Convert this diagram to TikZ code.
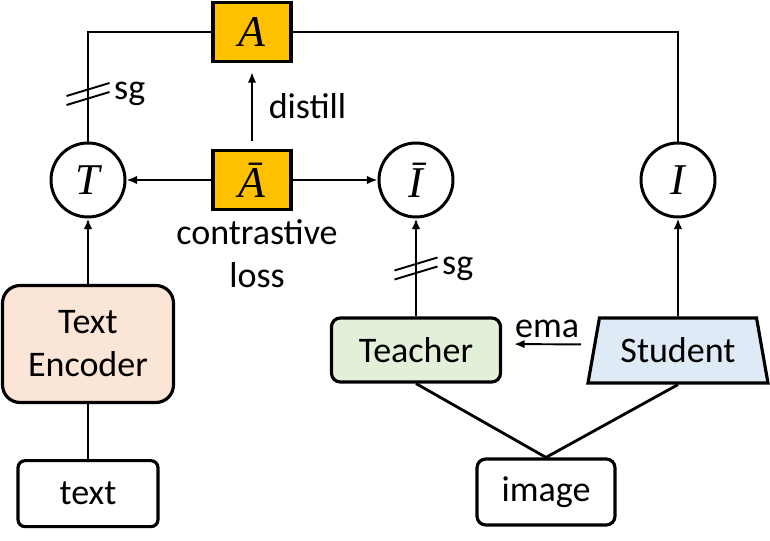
\documentclass[tikz,border=0pt]{standalone}
\usepackage{fontspec}
\setmainfont{Carlito}
\newfontfamily\varfont{Liberation Serif}
\usetikzlibrary{shapes.geometric, arrows, arrows.meta, positioning, calc}
\definecolor{gold}{HTML}{FFC000}
\definecolor{peach}{HTML}{FBE5D6}
\definecolor{mint}{HTML}{E2F0D9}
\definecolor{sky}{HTML}{DEEBF7}
\newcommand{\var}[1]{{\varfont\itshape #1}}

\begin{document}
\begin{tikzpicture}[
    font=\fontsize{20.5}{24.5}\selectfont,
    box/.style={rectangle, draw, line width=1.8pt, rounded corners=5pt, text centered},
    feat/.style={circle, draw, line width=1.7pt, minimum size=1.48cm, inner sep=0pt, font=\fontsize{25}{26}\selectfont},
    affinity/.style={rectangle, draw, line width=1.8pt, fill=gold, minimum width=1.56cm, minimum height=1.18cm, font=\fontsize{25}{26}\selectfont},
    arrow/.style={-{Latex[length=6pt, width=4.8pt]}, line width=1.1pt},
    link/.style={line width=1.6pt},
    sgmark/.style={line width=1.1pt}
]
\useasboundingbox (0,0) rectangle (15.4,10.82);

% Nodes
\node[feat] (T) at (1.76,7.22) {\var{T}};
\node[feat] (Ibar) at (8.32,7.22) {\var{\={I}}};
\node[feat] (I) at (13.56,7.22) {\var{I}};
\node[affinity] (Abar) at (5.04,7.22) {\var{\={A}}};
\node[affinity] (A) at (5.04,10.18) {\var{A}};
\node[box, fill=peach, rounded corners=10pt, minimum width=3.42cm, minimum height=2.34cm, align=center] (enc) at (1.76,3.94) {Text\\Encoder};
\node[box, rounded corners=4pt, minimum width=2.8cm, minimum height=1.32cm, below=1.1cm of enc] (text) {text};
\node[box, fill=mint, minimum width=3.38cm, minimum height=1.28cm] (teacher) at (8.32,3.82) {Teacher};
\node[trapezium, draw, line width=1.8pt, fill=sky, trapezium stretches=true, trapezium left angle=76, trapezium right angle=76, minimum width=3.6cm, minimum height=1.3cm] (student) at (13.56,3.81) {Student};
\node[box, minimum width=2.76cm, minimum height=1.32cm] (image) at (10.92,0.98) {image};

% Arrows
\draw[link] (T.north) |- (A.west);
\draw[link] (A.east) -| (I.north);
\draw[arrow, shorten <=0.16cm, shorten >=0.18cm] (Abar) -- node[right=0.2cm] {distill} (A);
\draw[arrow] (Abar) -- (T);
\draw[arrow] (Abar) -- (Ibar);
\draw[arrow] (enc) -- (T);
\draw[line width=1.1pt] (text) -- (enc);
\draw[arrow] (teacher) -- (Ibar);
\draw[arrow] (student) -- (I);
\draw[arrow, shorten <=0.22cm, shorten >=0.24cm] ([yshift=0.12cm]student.west) -- node[above] {ema} ([yshift=0.12cm]teacher.east);
\draw[link] (teacher.south) -- (image.north);
\draw[link] (student.south) -- (image.north);

% Stop-gradient marks
\coordinate (sgT) at ($(T.north)+(0,0.95)$);
\coordinate (sgI) at ($(Ibar.south)+(0,-1.0)$);
\foreach \c in {sgT, sgI} {
  \draw[sgmark] ($(\c)+(-0.43,-0.04)$) -- ($(\c)+(0.43,0.22)$);
  \draw[sgmark] ($(\c)+(-0.43,-0.22)$) -- ($(\c)+(0.43,0.04)$);
}

% Labels
\node[right=0.4cm of sgT] (sgTlabel) {sg};
\node[right=0.4cm of sgI] (sgIlabel) {sg};
\node[below=0.05cm of Abar, xshift=0.1cm, align=center] (loss) {contrastive\\loss};

\end{tikzpicture}
\end{document}
